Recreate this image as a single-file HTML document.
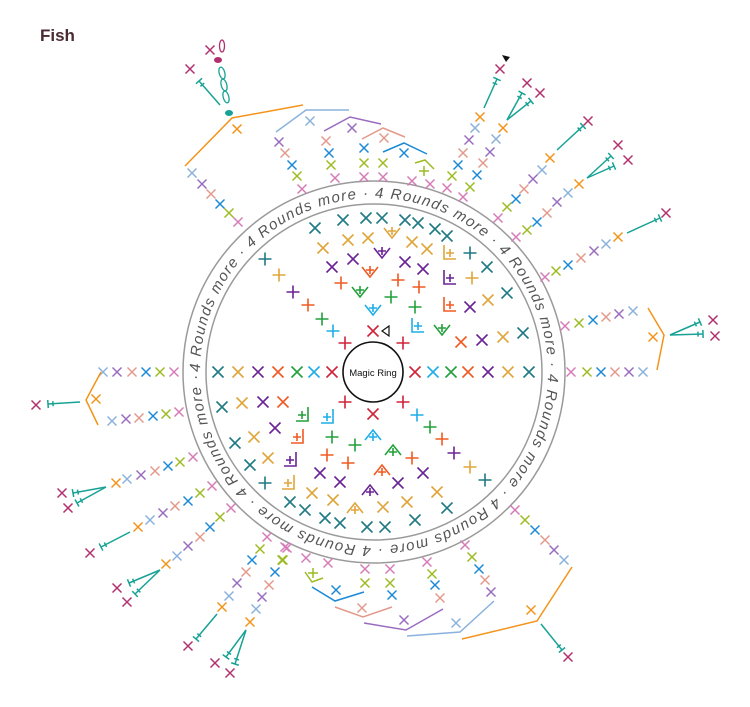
<!DOCTYPE html>
<html><head><meta charset="utf-8"><style>
html,body{margin:0;padding:0;background:#fff}
svg{display:block}
</style></head><body>
<svg width="750" height="707" viewBox="0 0 750 707" xmlns="http://www.w3.org/2000/svg" font-family="Liberation Sans, sans-serif">
<defs>
<path id="x" d="M-5.5-5.5L5.5 5.5M5.5-5.5L-5.5 5.5" fill="none"/>
<path id="p" d="M-6.5 0H6.5M0-6.5V6.5" fill="none"/>
<path id="s" d="M-4.5-4.5L4.5 4.5M4.5-4.5L-4.5 4.5" fill="none"/>
<path id="bu" d="M-8-4L0 6L8-4M-4-1H4M0-5V3" fill="none"/>
<path id="bd" d="M-8 4L0-6L8 4M-4 1H4M0-3V5" fill="none"/>
<path id="bl" d="M-6-8V6H6M-4 0H4M0-4V4" fill="none"/>
<path id="br" d="M6-8V6H-6M-4 0H4M0-4V4" fill="none"/>
<marker id="t" markerUnits="userSpaceOnUse" markerWidth="20" markerHeight="20" refX="0" refY="0" viewBox="-10 -10 20 20" orient="auto">
<path d="M0-4V4M-5-2.5V2.5" stroke="#17a295" stroke-width="1.5" fill="none"/>
</marker>
</defs>

<text x="40" y="41" font-size="17" font-weight="bold" fill="#4a2a33">Fish</text>

<circle cx="374" cy="372" r="191" fill="none" stroke="#9a9a9a" stroke-width="1.5"/>
<circle cx="374" cy="372" r="168" fill="none" stroke="#9a9a9a" stroke-width="1.5"/>
<path id="ring" d="M200 372A174 174 0 1 1 548 372A174 174 0 1 1 200 372" fill="none"/>
<text font-size="15" font-style="italic" fill="#555"><textPath href="#ring" textLength="1090" lengthAdjust="spacing">4 Rounds more · 4 Rounds more · 4 Rounds more · 4 Rounds more · 4 Rounds more · 4 Rounds more · 4 Rounds more · 4 Rounds more · </textPath></text>

<circle cx="373" cy="372" r="30" fill="#fff" stroke="#111" stroke-width="1.6"/>
<text x="373" y="376" font-size="9.5" text-anchor="middle" fill="#111">Magic Ring</text>

<g stroke-width="1.6" fill="none">
<use href="#p" x="345" y="343" stroke="#d2233a"/><use href="#p" x="403" y="343" stroke="#d2233a"/>
<use href="#p" x="345" y="402" stroke="#d2233a"/><use href="#p" x="403" y="402" stroke="#d2233a"/>
<use href="#x" x="373" y="331" stroke="#d2233a"/><use href="#x" x="373" y="414" stroke="#d2233a"/>
<path d="M389 326L382 331L389 336Z" stroke="#111" stroke-width="1.2"/>

<use href="#x" x="332" y="372" stroke="#d2233a"/><use href="#x" x="314" y="372" stroke="#1eaee8"/><use href="#x" x="297" y="372" stroke="#23a03c"/><use href="#x" x="278" y="372" stroke="#f05a22"/><use href="#x" x="258" y="372" stroke="#6b2496"/><use href="#x" x="238" y="372" stroke="#e0a53a"/><use href="#x" x="218" y="372" stroke="#1f7a84"/>
<use href="#x" x="415" y="372" stroke="#d2233a"/><use href="#x" x="433" y="372" stroke="#1eaee8"/><use href="#x" x="451" y="372" stroke="#23a03c"/><use href="#x" x="468" y="372" stroke="#f05a22"/><use href="#x" x="488" y="372" stroke="#6b2496"/><use href="#x" x="508" y="372" stroke="#e0a53a"/><use href="#x" x="529" y="372" stroke="#1f7a84"/>

<use href="#p" x="333" y="331" stroke="#1eaee8"/><use href="#p" x="322" y="319" stroke="#23a03c"/><use href="#p" x="308" y="305" stroke="#f05a22"/><use href="#p" x="293" y="292" stroke="#6b2496"/><use href="#p" x="279" y="275" stroke="#e0a53a"/><use href="#p" x="265" y="259" stroke="#1f7a84"/>
<use href="#p" x="417" y="415" stroke="#1eaee8"/><use href="#p" x="430" y="427" stroke="#23a03c"/><use href="#p" x="442" y="439" stroke="#f05a22"/><use href="#p" x="454" y="453" stroke="#6b2496"/><use href="#p" x="470" y="467" stroke="#e0a53a"/><use href="#p" x="485" y="480" stroke="#1f7a84"/>

<g stroke="#1f7a84"><use href="#x" x="315" y="228"/><use href="#x" x="343" y="220"/><use href="#x" x="366" y="218"/><use href="#x" x="382" y="218"/><use href="#x" x="405" y="220"/><use href="#x" x="418" y="223"/><use href="#x" x="435" y="229"/><use href="#x" x="447" y="236"/><use href="#p" x="470" y="253"/><use href="#x" x="487" y="267"/><use href="#x" x="507" y="293"/><use href="#x" x="523" y="333"/></g>
<g stroke="#e0a53a"><use href="#x" x="323" y="248"/><use href="#x" x="348" y="240"/><use href="#x" x="368" y="238"/><use href="#bu" x="392" y="232"/><use href="#x" x="412" y="242"/><use href="#x" x="427" y="249"/><use href="#bl" x="450" y="253"/><use href="#p" x="472" y="278"/><use href="#x" x="488" y="300"/><use href="#x" x="503" y="337"/></g>
<g stroke="#6b2496"><use href="#x" x="332" y="267"/><use href="#x" x="353" y="259"/><use href="#bu" x="382" y="252"/><use href="#x" x="405" y="262"/><use href="#x" x="423" y="269"/><use href="#bl" x="450" y="278"/><use href="#x" x="470" y="307"/><use href="#x" x="482" y="340"/></g>
<g stroke="#f05a22"><use href="#p" x="341" y="283"/><use href="#bu" x="370" y="271"/><use href="#p" x="398" y="280"/><use href="#p" x="419" y="287"/><use href="#bl" x="450" y="305"/><use href="#x" x="461" y="342"/></g>
<g stroke="#23a03c"><use href="#bu" x="360" y="291"/><use href="#p" x="391" y="297"/><use href="#p" x="415" y="307"/><use href="#bu" x="442" y="329"/></g>
<g stroke="#1eaee8"><use href="#bu" x="373" y="309"/><use href="#bl" x="418" y="326"/></g>

<g stroke="#1eaee8"><use href="#bd" x="373" y="436"/><use href="#br" x="327" y="417"/></g>
<g stroke="#23a03c"><use href="#br" x="302" y="415"/><use href="#p" x="332" y="437"/><use href="#p" x="355" y="445"/><use href="#bd" x="393" y="451"/></g>
<g stroke="#f05a22"><use href="#x" x="283" y="402"/><use href="#br" x="297" y="437"/><use href="#p" x="327" y="455"/><use href="#p" x="348" y="463"/><use href="#bd" x="382" y="471"/><use href="#p" x="412" y="458"/></g>
<g stroke="#6b2496"><use href="#x" x="263" y="402"/><use href="#x" x="275" y="428"/><use href="#br" x="290" y="460"/><use href="#x" x="320" y="473"/><use href="#x" x="340" y="482"/><use href="#bd" x="370" y="491"/><use href="#x" x="398" y="483"/><use href="#x" x="423" y="473"/></g>
<g stroke="#e0a53a"><use href="#x" x="242" y="403"/><use href="#x" x="254" y="437"/><use href="#x" x="268" y="458"/><use href="#br" x="288" y="483"/><use href="#x" x="312" y="493"/><use href="#x" x="333" y="500"/><use href="#bd" x="355" y="509"/><use href="#x" x="383" y="507"/><use href="#x" x="407" y="502"/><use href="#x" x="437" y="492"/></g>
<g stroke="#1f7a84"><use href="#x" x="222" y="407"/><use href="#x" x="235" y="443"/><use href="#x" x="250" y="465"/><use href="#p" x="265" y="483"/><use href="#x" x="290" y="502"/><use href="#x" x="305" y="510"/><use href="#x" x="325" y="518"/><use href="#x" x="340" y="523"/><use href="#x" x="367" y="527"/><use href="#x" x="385" y="527"/><use href="#x" x="415" y="520"/><use href="#x" x="447" y="508"/></g>
</g>

<g stroke-width="1.5" fill="none">
<use href="#s" x="103" y="372" stroke="#8ab2dc"/><use href="#s" x="117" y="372" stroke="#9a6cc0"/><use href="#s" x="132" y="372" stroke="#e39a8c"/><use href="#s" x="146" y="372" stroke="#1a8ad6"/><use href="#s" x="160" y="372" stroke="#9cbb22"/><use href="#s" x="174" y="372" stroke="#d67bb8"/>
<use href="#s" x="112" y="421" stroke="#8ab2dc"/><use href="#s" x="126" y="419" stroke="#9a6cc0"/><use href="#s" x="139" y="418" stroke="#e39a8c"/><use href="#s" x="153" y="416" stroke="#1a8ad6"/><use href="#s" x="166" y="414" stroke="#9cbb22"/><use href="#s" x="179" y="412" stroke="#d67bb8"/>
<path d="M101 372L86 400L98 425" stroke="#f3931a"/><use href="#s" x="96" y="399" stroke="#f3931a"/>
<path d="M80 402L48 404" stroke="#17a295" marker-end="url(#t)"/><use href="#s" x="36" y="405" stroke="#b2306e"/>

<use href="#s" x="571" y="372" stroke="#d67bb8"/><use href="#s" x="587" y="372" stroke="#9cbb22"/><use href="#s" x="601" y="372" stroke="#1a8ad6"/><use href="#s" x="615" y="372" stroke="#e39a8c"/><use href="#s" x="629" y="372" stroke="#9a6cc0"/><use href="#s" x="643" y="372" stroke="#8ab2dc"/>
<use href="#s" x="565" y="326" stroke="#d67bb8"/><use href="#s" x="579" y="323" stroke="#9cbb22"/><use href="#s" x="593" y="320" stroke="#1a8ad6"/><use href="#s" x="606" y="317" stroke="#e39a8c"/><use href="#s" x="619" y="314" stroke="#9a6cc0"/><use href="#s" x="633" y="311" stroke="#8ab2dc"/>
<path d="M648 308L664 335L657 370" stroke="#f3931a"/><use href="#s" x="653" y="337" stroke="#f3931a"/>
<path d="M670 335L700 322" stroke="#17a295" marker-end="url(#t)"/><path d="M670 335L703 334" stroke="#17a295" marker-end="url(#t)"/>
<use href="#s" x="713" y="320" stroke="#b2306e"/><use href="#s" x="715" y="336" stroke="#b2306e"/>

<use href="#s" x="545" y="277" stroke="#d67bb8"/><use href="#s" x="556" y="271" stroke="#9cbb22"/><use href="#s" x="568" y="265" stroke="#1a8ad6"/><use href="#s" x="581" y="258" stroke="#e39a8c"/><use href="#s" x="594" y="251" stroke="#9a6cc0"/><use href="#s" x="606" y="244" stroke="#8ab2dc"/><use href="#s" x="618" y="237" stroke="#f3931a"/>
<path d="M627 233L660 218" stroke="#17a295" marker-end="url(#t)"/><use href="#s" x="666" y="213" stroke="#b2306e"/>

<use href="#s" x="516" y="237" stroke="#d67bb8"/><use href="#s" x="527" y="230" stroke="#9cbb22"/><use href="#s" x="537" y="222" stroke="#1a8ad6"/><use href="#s" x="547" y="213" stroke="#e39a8c"/><use href="#s" x="557" y="202" stroke="#9a6cc0"/><use href="#s" x="568" y="193" stroke="#8ab2dc"/><use href="#s" x="579" y="184" stroke="#f3931a"/>
<path d="M587 178L611 156" stroke="#17a295" marker-end="url(#t)"/><path d="M587 178L614 166" stroke="#17a295" marker-end="url(#t)"/>
<use href="#s" x="618" y="145" stroke="#b2306e"/><use href="#s" x="628" y="160" stroke="#b2306e"/>

<use href="#s" x="498" y="218" stroke="#d67bb8"/><use href="#s" x="507" y="207" stroke="#9cbb22"/><use href="#s" x="516" y="199" stroke="#1a8ad6"/><use href="#s" x="524" y="189" stroke="#e39a8c"/><use href="#s" x="533" y="179" stroke="#9a6cc0"/><use href="#s" x="542" y="170" stroke="#8ab2dc"/><use href="#s" x="550" y="158" stroke="#f3931a"/>
<path d="M557 150L583 126" stroke="#17a295" marker-end="url(#t)"/><use href="#s" x="588" y="121" stroke="#b2306e"/>

<use href="#s" x="463" y="197" stroke="#d67bb8"/><use href="#s" x="470" y="187" stroke="#9cbb22"/><use href="#s" x="477" y="175" stroke="#1a8ad6"/><use href="#s" x="483" y="163" stroke="#e39a8c"/><use href="#s" x="490" y="152" stroke="#9a6cc0"/><use href="#s" x="496" y="139" stroke="#8ab2dc"/><use href="#s" x="503" y="128" stroke="#f3931a"/>
<path d="M507 120L522 93" stroke="#17a295" marker-end="url(#t)"/><path d="M507 120L531 101" stroke="#17a295" marker-end="url(#t)"/>
<use href="#s" x="527" y="83" stroke="#b2306e"/><use href="#s" x="540" y="93" stroke="#b2306e"/>

<use href="#s" x="447" y="188" stroke="#d67bb8"/><use href="#s" x="452" y="176" stroke="#9cbb22"/><use href="#s" x="458" y="165" stroke="#1a8ad6"/><use href="#s" x="463" y="153" stroke="#e39a8c"/><use href="#s" x="469" y="140" stroke="#9a6cc0"/><use href="#s" x="475" y="128" stroke="#8ab2dc"/><use href="#s" x="480" y="117" stroke="#f3931a"/>
<path d="M484 108L497 79" stroke="#17a295" marker-end="url(#t)"/><use href="#s" x="500" y="69" stroke="#b2306e"/>
<path d="M502 55L510 57L506 62Z" fill="#111" stroke="none"/>

<path d="M185 166L232 118L303 105" stroke="#f3931a"/><use href="#s" x="237" y="129" stroke="#f3931a"/>
<ellipse cx="229" cy="113" rx="4" ry="3" fill="#17a295" stroke="none"/>
<g stroke="#17a295" stroke-width="1.3"><ellipse cx="222" cy="73" rx="2.8" ry="6" transform="rotate(-15 222 73)"/><ellipse cx="224" cy="85" rx="2.8" ry="6" transform="rotate(-15 224 85)"/><ellipse cx="226" cy="97" rx="2.8" ry="6" transform="rotate(-15 226 97)"/></g>
<ellipse cx="218" cy="60" rx="4" ry="3" fill="#b2306e" stroke="none"/>
<ellipse cx="222" cy="46" rx="2.5" ry="6" stroke="#b2306e" stroke-width="1.3"/>
<use href="#s" x="210" y="50" stroke="#b2306e"/>
<path d="M220 105L199 81" stroke="#17a295" marker-end="url(#t)"/><use href="#s" x="190" y="69" stroke="#b2306e"/>

<use href="#s" x="192" y="173" stroke="#8ab2dc"/><use href="#s" x="202" y="184" stroke="#9a6cc0"/><use href="#s" x="211" y="194" stroke="#e39a8c"/><use href="#s" x="220" y="204" stroke="#1a8ad6"/><use href="#s" x="229" y="213" stroke="#9cbb22"/><use href="#s" x="238" y="222" stroke="#d67bb8"/>

<path d="M276 132L306 110L349 110" stroke="#8ab2dc"/><use href="#s" x="310" y="121" stroke="#8ab2dc"/>
<use href="#s" x="279" y="142" stroke="#9a6cc0"/><use href="#s" x="285" y="153" stroke="#e39a8c"/><use href="#s" x="292" y="165" stroke="#1a8ad6"/><use href="#s" x="297" y="176" stroke="#9cbb22"/><use href="#s" x="302" y="189" stroke="#d67bb8"/>
<path d="M324 131L350 117L381 124" stroke="#9a6cc0"/><use href="#s" x="352" y="128" stroke="#9a6cc0"/>
<path d="M362 139L383 128L405 137" stroke="#e39a8c"/><use href="#s" x="384" y="138" stroke="#e39a8c"/>
<path d="M383 152L404 143L427 154" stroke="#1a8ad6"/><use href="#s" x="404" y="153" stroke="#1a8ad6"/>
<use href="#s" x="326" y="141" stroke="#e39a8c"/><use href="#s" x="329" y="153" stroke="#1a8ad6"/><use href="#s" x="331" y="165" stroke="#9cbb22"/><use href="#s" x="335" y="178" stroke="#d67bb8"/>
<use href="#s" x="364" y="148" stroke="#1a8ad6"/><use href="#s" x="364" y="163" stroke="#9cbb22"/><use href="#s" x="364" y="177" stroke="#d67bb8"/>
<use href="#s" x="383" y="163" stroke="#9cbb22"/><use href="#s" x="383" y="177" stroke="#d67bb8"/>
<path d="M415 163L425 160L434 169M419 171H429M424 166V176" stroke="#9cbb22"/>
<use href="#s" x="412" y="181" stroke="#d67bb8"/><use href="#s" x="430" y="184" stroke="#d67bb8"/>

<use href="#s" x="515" y="510" stroke="#d67bb8"/><use href="#s" x="525" y="520" stroke="#9cbb22"/><use href="#s" x="535" y="530" stroke="#1a8ad6"/><use href="#s" x="545" y="540" stroke="#e39a8c"/><use href="#s" x="554" y="550" stroke="#9a6cc0"/><use href="#s" x="564" y="560" stroke="#8ab2dc"/>
<path d="M572 567L537 621L462 639" stroke="#f3931a"/><use href="#s" x="531" y="610" stroke="#f3931a"/>
<path d="M541 624L562 650" stroke="#17a295" marker-end="url(#t)"/><use href="#s" x="568" y="657" stroke="#b2306e"/>
<use href="#s" x="465" y="545" stroke="#d67bb8"/><use href="#s" x="472" y="557" stroke="#9cbb22"/><use href="#s" x="479" y="569" stroke="#1a8ad6"/><use href="#s" x="485" y="580" stroke="#e39a8c"/><use href="#s" x="491" y="592" stroke="#9a6cc0"/>
<path d="M494 601L460 632L407 636" stroke="#8ab2dc"/><use href="#s" x="456" y="623" stroke="#8ab2dc"/>
<use href="#s" x="427" y="562" stroke="#d67bb8"/><use href="#s" x="432" y="574" stroke="#9cbb22"/><use href="#s" x="435" y="585" stroke="#1a8ad6"/><use href="#s" x="440" y="598" stroke="#e39a8c"/>
<path d="M443 609L406 630L364 623" stroke="#9a6cc0"/><use href="#s" x="404" y="620" stroke="#9a6cc0"/>
<path d="M392 607L363 617L335 607" stroke="#e39a8c"/><use href="#s" x="362" y="608" stroke="#e39a8c"/>
<path d="M364 592L335 601L312 587" stroke="#1a8ad6"/><use href="#s" x="336" y="590" stroke="#1a8ad6"/>
<use href="#s" x="365" y="569" stroke="#d67bb8"/><use href="#s" x="365" y="583" stroke="#9cbb22"/>
<use href="#s" x="390" y="569" stroke="#d67bb8"/><use href="#s" x="390" y="583" stroke="#9cbb22"/><use href="#s" x="392" y="595" stroke="#1a8ad6"/>
<use href="#s" x="306" y="558" stroke="#d67bb8"/><use href="#s" x="328" y="563" stroke="#d67bb8"/>
<path d="M305 572L312 582L323 578M308 573H318M313 568V578" stroke="#9cbb22"/>
<use href="#s" x="285" y="547" stroke="#d67bb8"/><use href="#s" x="283" y="560" stroke="#9cbb22"/>

<use href="#s" x="193" y="457" stroke="#d67bb8"/><use href="#s" x="180" y="462" stroke="#9cbb22"/><use href="#s" x="168" y="466" stroke="#1a8ad6"/><use href="#s" x="155" y="471" stroke="#e39a8c"/><use href="#s" x="141" y="475" stroke="#9a6cc0"/><use href="#s" x="127" y="479" stroke="#8ab2dc"/><use href="#s" x="116" y="483" stroke="#f3931a"/>
<path d="M106 487L73 493" stroke="#17a295" marker-end="url(#t)"/><path d="M106 487L77 503" stroke="#17a295" marker-end="url(#t)"/>
<use href="#s" x="62" y="493" stroke="#b2306e"/><use href="#s" x="68" y="508" stroke="#b2306e"/>

<use href="#s" x="212" y="486" stroke="#d67bb8"/><use href="#s" x="200" y="493" stroke="#9cbb22"/><use href="#s" x="188" y="501" stroke="#1a8ad6"/><use href="#s" x="175" y="506" stroke="#e39a8c"/><use href="#s" x="163" y="513" stroke="#9a6cc0"/><use href="#s" x="150" y="520" stroke="#8ab2dc"/><use href="#s" x="138" y="527" stroke="#f3931a"/>
<path d="M130 532L101 547" stroke="#17a295" marker-end="url(#t)"/><use href="#s" x="90" y="553" stroke="#b2306e"/>

<use href="#s" x="231" y="508" stroke="#d67bb8"/><use href="#s" x="220" y="517" stroke="#9cbb22"/><use href="#s" x="210" y="527" stroke="#1a8ad6"/><use href="#s" x="200" y="537" stroke="#e39a8c"/><use href="#s" x="188" y="546" stroke="#9a6cc0"/><use href="#s" x="177" y="556" stroke="#8ab2dc"/><use href="#s" x="166" y="564" stroke="#f3931a"/>
<path d="M160 570L129 583" stroke="#17a295" marker-end="url(#t)"/><path d="M160 570L135 594" stroke="#17a295" marker-end="url(#t)"/>
<use href="#s" x="117" y="588" stroke="#b2306e"/><use href="#s" x="127" y="602" stroke="#b2306e"/>

<use href="#s" x="267" y="537" stroke="#d67bb8"/><use href="#s" x="260" y="549" stroke="#9cbb22"/><use href="#s" x="252" y="560" stroke="#1a8ad6"/><use href="#s" x="246" y="572" stroke="#e39a8c"/><use href="#s" x="237" y="583" stroke="#9a6cc0"/><use href="#s" x="229" y="596" stroke="#8ab2dc"/><use href="#s" x="222" y="607" stroke="#f3931a"/>
<path d="M217 614L196 639" stroke="#17a295" marker-end="url(#t)"/><use href="#s" x="188" y="646" stroke="#b2306e"/>

<use href="#s" x="287" y="548" stroke="#d67bb8"/><use href="#s" x="282" y="560" stroke="#9cbb22"/><use href="#s" x="275" y="572" stroke="#1a8ad6"/><use href="#s" x="269" y="585" stroke="#e39a8c"/><use href="#s" x="262" y="597" stroke="#9a6cc0"/><use href="#s" x="256" y="609" stroke="#8ab2dc"/><use href="#s" x="250" y="622" stroke="#f3931a"/>
<path d="M246 630L226 657" stroke="#17a295" marker-end="url(#t)"/><path d="M246 630L235 664" stroke="#17a295" marker-end="url(#t)"/>
<use href="#s" x="215" y="663" stroke="#b2306e"/><use href="#s" x="230" y="673" stroke="#b2306e"/>
</g>
</svg>
</body></html>
